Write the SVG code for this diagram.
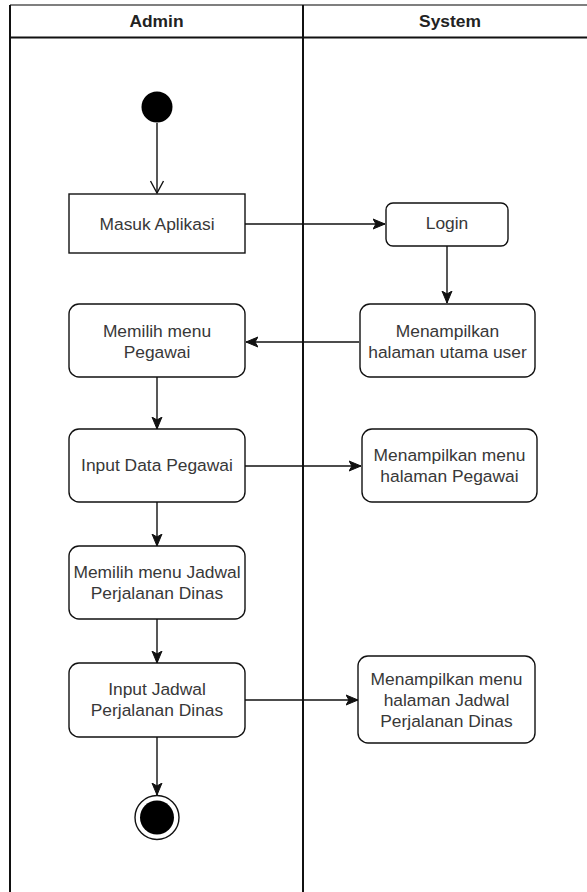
<svg xmlns="http://www.w3.org/2000/svg" width="587" height="892" viewBox="0 0 587 892">
<defs>
<style>
.lbl{font-family:"Liberation Sans",Arial,Helvetica,sans-serif;font-size:17.4px;fill:#383838;text-anchor:middle}
.hdr{font-family:"Liberation Sans",Arial,Helvetica,sans-serif;font-size:17.4px;font-weight:bold;fill:#222;text-anchor:middle}
.box{fill:#fff;stroke:#111;stroke-width:1.4}
.edge{fill:none;stroke:#111;stroke-width:1.4}
.lane{fill:none;stroke:#111;stroke-width:2}
</style>
<marker id="arr" markerUnits="userSpaceOnUse" markerWidth="14" markerHeight="12" viewBox="0 0 14 12" refX="12" refY="6" orient="auto">
<path d="M0,1 L12,6 L0,11 L3,6 Z" fill="#111" stroke="#111" stroke-width="1"/>
</marker>
<marker id="open" markerUnits="userSpaceOnUse" markerWidth="16" markerHeight="16" viewBox="0 0 16 16" refX="13" refY="8" orient="auto">
<path d="M1,1.5 L13,8 L1,14.5" fill="none" stroke="#111" stroke-width="1.4"/>
</marker>
</defs>
<rect width="587" height="892" fill="#fff"/>
<g id="pool">
<line x1="10" y1="5" x2="587" y2="5" stroke="#555" stroke-width="1.3"/>
<line x1="10" y1="37.5" x2="587" y2="37.5" class="lane"/>
<line x1="10" y1="5" x2="10" y2="892" class="lane"/>
<line x1="303" y1="5" x2="303" y2="892" class="lane"/>
<text class="hdr" x="156.5" y="27">Admin</text>
<text class="hdr" x="450" y="27">System</text>
</g>
<g id="connectors">
<line class="edge" x1="157" y1="123" x2="157" y2="193" marker-end="url(#open)"/>
<line class="edge" x1="245" y1="224" x2="385" y2="224" marker-end="url(#arr)"/>
<line class="edge" x1="447" y1="246" x2="447" y2="303" marker-end="url(#arr)"/>
<line class="edge" x1="359" y1="342" x2="246" y2="342" marker-end="url(#arr)"/>
<line class="edge" x1="157" y1="377" x2="157" y2="429" marker-end="url(#arr)"/>
<line class="edge" x1="245" y1="466" x2="361" y2="466" marker-end="url(#arr)"/>
<line class="edge" x1="157" y1="502" x2="157" y2="546" marker-end="url(#arr)"/>
<line class="edge" x1="157" y1="619" x2="157" y2="663" marker-end="url(#arr)"/>
<line class="edge" x1="245" y1="700" x2="358" y2="700" marker-end="url(#arr)"/>
<line class="edge" x1="157" y1="737" x2="157" y2="795" marker-end="url(#arr)"/>
</g>
<g id="start">
<circle cx="157" cy="107" r="15.5" fill="#000"/>
</g>
<g id="masuk-aplikasi">
<rect class="box" x="69" y="194" width="176" height="59"/>
<text class="lbl" x="157" y="230">Masuk Aplikasi</text>
</g>
<g id="login">
<rect class="box" x="386" y="203" width="122" height="43" rx="7"/>
<text class="lbl" x="447" y="229">Login</text>
</g>
<g id="halaman-utama">
<rect class="box" x="360" y="304" width="175" height="73" rx="10"/>
<text class="lbl" x="447.5" y="337">Menampilkan</text>
<text class="lbl" x="447.5" y="358">halaman utama user</text>
</g>
<g id="memilih-pegawai">
<rect class="box" x="69" y="304" width="176" height="73" rx="10"/>
<text class="lbl" x="157" y="337">Memilih menu</text>
<text class="lbl" x="157" y="358">Pegawai</text>
</g>
<g id="input-pegawai">
<rect class="box" x="69" y="429" width="176" height="73" rx="10"/>
<text class="lbl" x="157" y="471">Input Data Pegawai</text>
</g>
<g id="menu-pegawai">
<rect class="box" x="362" y="429" width="175" height="73" rx="10"/>
<text class="lbl" x="449.5" y="461">Menampilkan menu</text>
<text class="lbl" x="449.5" y="482">halaman Pegawai</text>
</g>
<g id="memilih-jadwal">
<rect class="box" x="69" y="546" width="176" height="73" rx="10"/>
<text class="lbl" x="157" y="578">Memilih menu Jadwal</text>
<text class="lbl" x="157" y="599">Perjalanan Dinas</text>
</g>
<g id="input-jadwal">
<rect class="box" x="69" y="663" width="176" height="74" rx="10"/>
<text class="lbl" x="157" y="695">Input Jadwal</text>
<text class="lbl" x="157" y="716">Perjalanan Dinas</text>
</g>
<g id="menu-jadwal">
<rect class="box" x="358" y="656" width="177" height="87" rx="10"/>
<text class="lbl" x="446.5" y="685">Menampilkan menu</text>
<text class="lbl" x="446.5" y="706">halaman Jadwal</text>
<text class="lbl" x="446.5" y="727">Perjalanan Dinas</text>
</g>
<g id="end">
<circle cx="157" cy="817.5" r="22" fill="#fff" stroke="#111" stroke-width="1.4"/>
<circle cx="157" cy="817.5" r="17" fill="#000"/>
</g>
</svg>
